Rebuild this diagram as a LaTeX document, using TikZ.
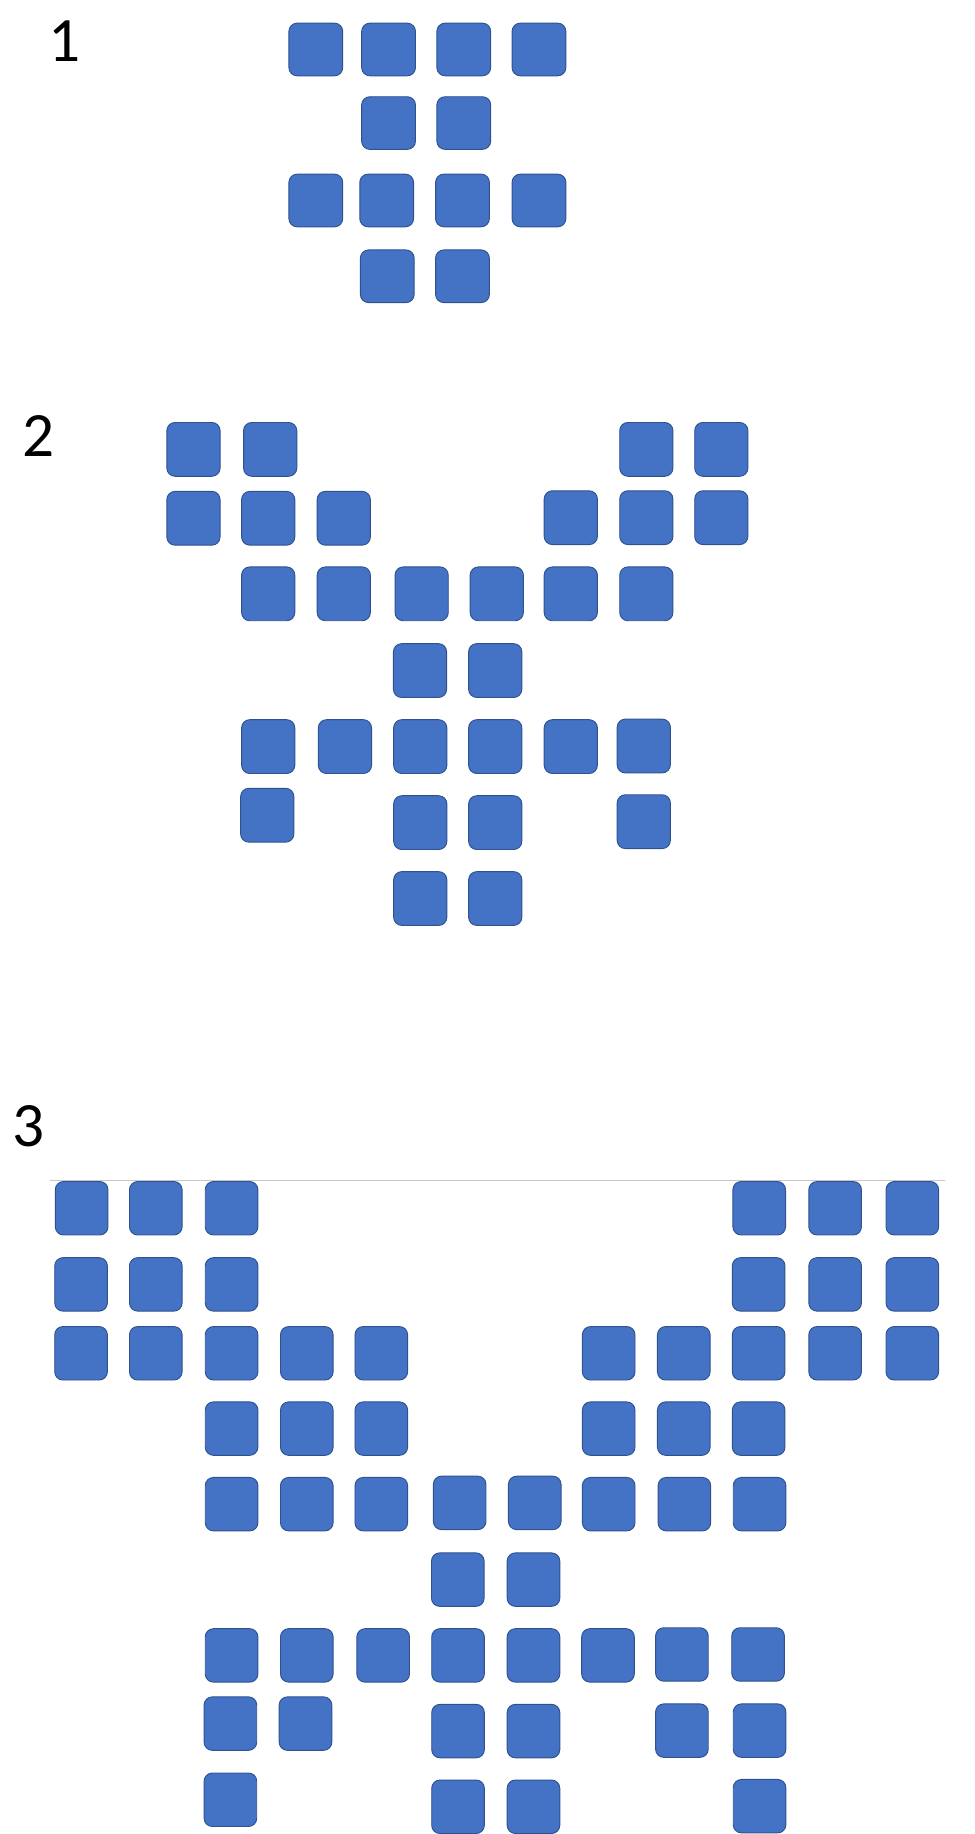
\documentclass[tikz,border=0pt]{standalone}
\usepackage{fontspec}
\setmainfont{Carlito}
\definecolor{tileblue}{HTML}{4472C4}
\definecolor{tileedge}{HTML}{2F528F}
\definecolor{rulegray}{HTML}{C8C8C8}
\begin{document}
\begin{tikzpicture}[x=1pt,y=-1pt,
  tile/.style={draw=tileedge,fill=tileblue,line width=0.8pt,rounded corners=7pt,
    minimum width=45pt,minimum height=45.5pt,inner sep=0pt,outer sep=0pt},
  numlabel/.style={anchor=base,inner sep=0pt,font=\fontsize{54}{54}\selectfont}]
\useasboundingbox (0,0) rectangle (833,1568);
% labels
\node[numlabel] (lab1) at (55,52.9) {1};
\node[numlabel] (lab2) at (33,390) {2};
\node[numlabel] (lab3) at (24,980.5) {3};
% section 1
\foreach \cx/\cy [count=\i] in {270/42.3,332.2/42.3,396.5/42.3,460.8/42.3,
  332.2/105.2,396.5/105.2,
  270/171.4,330.6/171.4,395.4/171.4,460.8/171.4,
  331.1/236.2,395.4/236.2}
  \node[tile,minimum width=46pt,minimum height=45pt] (a\i) at (\cx,\cy) {};
% section 2
\foreach \cx/\cy [count=\i] in {165.4/384.2,231/384.2,552.6/384.2,616.7/384.2,
  165.4/443.1,229.3/443.1,293.9/443.1,488/442.6,552.6/442.6,616.7/442.6,
  229.3/507.7,293.9/507.7,360.5/507.7,424.7/507.7,488/507.7,552.6/507.7,
  359.1/573.3,423.4/573.3,
  229.3/638.3,294.9/638.3,359.3/638.3,423.4/638.3,488/638.3,550.4/637.8,
  228.5/697,359.3/703.3,423.4/703.3,550.4/702.5,
  359.3/768.2,423.4/768.2}
  \node[tile,minimum width=45.5pt,minimum height=46pt] (b\i) at (\cx,\cy) {};
% section 3
\coordinate (rl) at (42.5,1009.3);
\coordinate (rr) at (808,1009.3);
\draw[rulegray,line width=0.9pt] (rl) -- (rr);
\foreach \cx/\cy [count=\i] in {69.8/1033,133.2/1033,198/1033,649.1/1033,714/1033,780/1033,
  69.3/1098.1,133.2/1098.1,198/1098.1,648.6/1098.1,714/1098.1,780/1098.1,
  69.3/1157,133.2/1157,198/1157,262.3/1157,326/1157,520.4/1157,584.6/1157,648.6/1157,714/1157,780/1157,
  198/1221.4,262.3/1221.4,326/1221.4,520.4/1221.4,584.6/1221.4,648.6/1221.4,
  198/1286,262.3/1286,326/1286,393/1284.9,457.2/1284.9,520.4/1286,585.1/1286,649.4/1286,
  391.4/1350.5,456.1/1350.5,
  198/1415.3,262.3/1415.3,327.6/1415.3,391.6/1415.3,456.1/1415.3,519.8/1415.3,583/1414.5,648.1/1414.5,
  197/1473.6,261.2/1473.6,391.6/1480,456.1/1480,583/1479.6,649.4/1479.6,
  197/1538.7,391.6/1544.7,456.1/1544.7,649.4/1544.2}
  \node[tile,minimum width=45pt,minimum height=45.7pt] (c\i) at (\cx,\cy) {};
\end{tikzpicture}
\end{document}
